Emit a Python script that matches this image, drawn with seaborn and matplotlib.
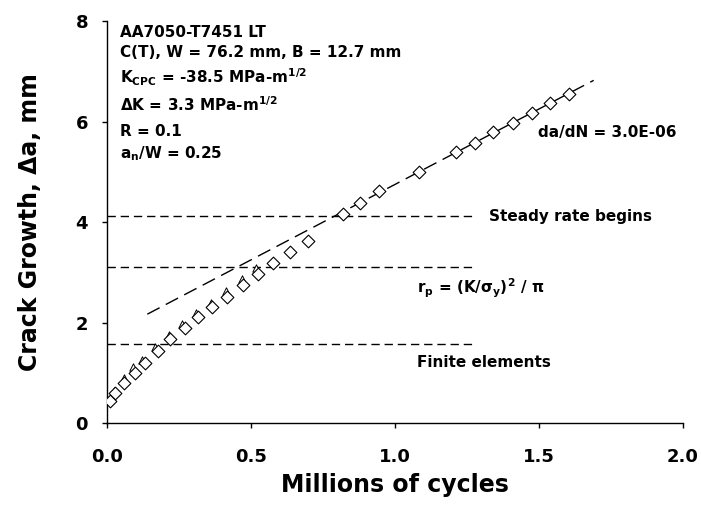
import matplotlib
matplotlib.use("Agg")
import matplotlib.pyplot as plt
import seaborn as sns
import pandas as pd

sns.set_style("ticks")
plt.rcParams["font.family"] = ["DejaVu Sans"]
plt.rcParams["font.weight"] = "bold"
plt.rcParams["mathtext.fontset"] = "dejavusans"
plt.rcParams["mathtext.default"] = "bf"
plt.rcParams["text.color"] = "black"
plt.rcParams["axes.labelcolor"] = "black"
plt.rcParams["xtick.color"] = "black"
plt.rcParams["ytick.color"] = "black"

# measured crack growth (diamonds)
cycles_m = [0.009, 0.029, 0.06, 0.096, 0.133, 0.177, 0.22, 0.27, 0.316, 0.366,
            0.417, 0.472, 0.526, 0.578, 0.636, 0.697, 0.819, 0.877, 0.943, 1.084,
            1.213, 1.279, 1.34, 1.41, 1.476, 1.537, 1.603]
growth_mm = [0.45, 0.60, 0.81, 1.01, 1.20, 1.44, 1.67, 1.90, 2.11, 2.31,
             2.52, 2.76, 2.96, 3.18, 3.40, 3.62, 4.17, 4.39, 4.62, 5.00,
             5.39, 5.58, 5.79, 5.98, 6.17, 6.36, 6.55]

# second, mostly hidden series (open triangles)
tri_cycles = [0.006, 0.023, 0.058, 0.09, 0.122, 0.168, 0.214, 0.26, 0.31, 0.361,
              0.414, 0.469, 0.517]
tri_growth = [0.47, 0.65, 0.91, 1.11, 1.26, 1.51, 1.75, 1.98, 2.20, 2.40,
              2.63, 2.86, 3.08]

# steady-state fit, da/dN = 3.0E-06
fit_cycles = [0.14, 1.69]
fit_growth = [2.17, 6.82]

# horizontal reference levels
ref_levels = [4.12, 3.11, 1.57]
ref_end = 1.28

x_ticks = [0.0, 0.5, 1.0, 1.5, 2.0]
y_ticks = [0, 2, 4, 6, 8]

info_lines = [
    "AA7050-T7451 LT",
    "C(T), W = 76.2 mm, B = 12.7 mm",
    "K$_{CPC}$ = -38.5 MPa-m$^{1/2}$",
    "ΔK = 3.3 MPa-m$^{1/2}$",
    "R = 0.1",
    "a$_{n}$/W = 0.25",
]
info_y = [7.78, 7.38, 6.88, 6.33, 5.81, 5.37]

df = pd.DataFrame({"cycles": cycles_m, "growth": growth_mm})
df_tri = pd.DataFrame({"cycles": tri_cycles, "growth": tri_growth})
df_fit = pd.DataFrame({"cycles": fit_cycles, "growth": fit_growth})

fig = plt.figure(figsize=(7.01, 5.17), dpi=100)
ax = fig.add_axes([0.1526, 0.1812, 0.8217, 0.7782])

ax.hlines(ref_levels, 0, ref_end, colors="black", linestyles=(0, (6, 3.5)), lw=1.0, zorder=1)
sns.lineplot(data=df_fit, x="cycles", y="growth", color="black", lw=1.0,
             dashes=False, ax=ax, zorder=2)
ax.lines[-1].set_dashes((10, 5))
sns.scatterplot(data=df_tri, x="cycles", y="growth", marker="^", s=28,
                facecolor="white", edgecolor="black", linewidth=0.7, ax=ax, zorder=3)
sns.scatterplot(data=df, x="cycles", y="growth", marker="D", s=42,
                facecolor="white", edgecolor="black", linewidth=0.8, ax=ax, zorder=4)

for txt, yv in zip(info_lines, info_y):
    ax.text(0.044, yv, txt, fontsize=11, weight="bold", va="center", ha="left")

ax.text(1.498, 5.78, "da/dN = 3.0E-06", fontsize=11, weight="bold", va="center")
ax.text(1.327, 4.12, "Steady rate begins", fontsize=11, weight="bold", va="center")
ax.text(1.077, 2.69, "r$_{p}$ = (K/σ$_{y}$)$^{2}$ / π", fontsize=11, weight="bold", va="center")
ax.text(1.077, 1.20, "Finite elements", fontsize=11, weight="bold", va="center")

ax.set_xlim(0, 2.0)
ax.set_ylim(0, 8)
ax.set_xticks(x_ticks)
ax.set_xticklabels([f"{v:.1f}" for v in x_ticks])
ax.set_yticks(y_ticks)
ax.tick_params(labelsize=13, width=1.0, length=3.6, direction="out")
ax.tick_params(axis="x", pad=14)
ax.tick_params(axis="y", pad=10)
for lab in ax.get_xticklabels() + ax.get_yticklabels():
    lab.set_fontweight("bold")
ax.set_xlabel("Millions of cycles", fontsize=17, weight="bold", labelpad=5)
ax.set_ylabel("Crack Growth, Δa, mm", fontsize=17, weight="bold", labelpad=24)
for s in ["left", "bottom"]:
    ax.spines[s].set_linewidth(1.0)
    ax.spines[s].set_color("black")
sns.despine(ax=ax)
if ax.get_legend():
    ax.get_legend().remove()

fig.savefig("out.png", dpi=100, facecolor="w")
